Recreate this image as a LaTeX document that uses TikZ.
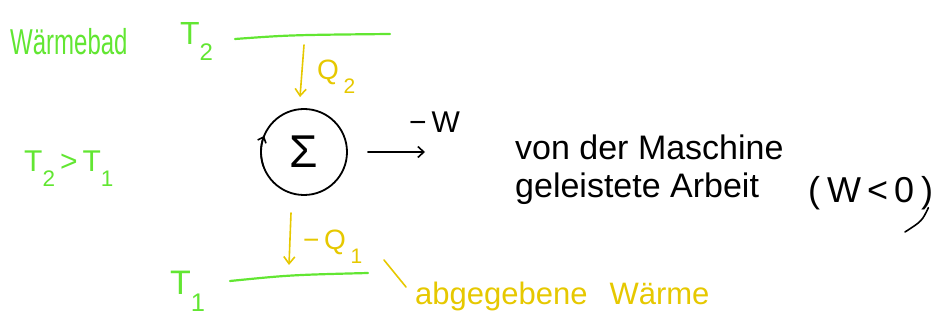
\documentclass[tikz,border=0pt]{standalone}
\usepackage{fontspec}
\setmainfont{Liberation Sans}
\usetikzlibrary{arrows.meta}
\definecolor{bathgreen}{RGB}{98,230,50}
\definecolor{heatyellow}{RGB}{230,200,0}
\newcommand\lowsub[1]{\raisebox{-0.5em}{\scalebox{0.75}{#1}}}
\tikzset{
  greentext/.style={text=bathgreen, inner sep=0pt},
  yellowtext/.style={text=heatyellow, inner sep=0pt},
  blacktext/.style={text=black, inner sep=0pt},
  bathline/.style={draw=bathgreen, line width=2.2pt, line cap=round},
  heatarrow/.style={draw=heatyellow, line width=1.6pt, line cap=round,
    -{Straight Barb[length=7pt,width=11pt,line width=1.6pt]}},
  heatstroke/.style={draw=heatyellow, line width=1.6pt, line cap=round},
  workarrow/.style={draw=black, line width=1.6pt, line cap=round,
    -{Straight Barb[length=6pt,width=11pt,line width=1.6pt]}},
  inkstroke/.style={draw=black, line width=1.6pt, line cap=round},
  machine/.style={circle, draw=black, line width=1.8pt, minimum size=86pt, inner sep=0pt}
}
\begin{document}
\begin{tikzpicture}[x=1pt,y=1pt]
\useasboundingbox (0,0) rectangle (942,321);

% heat bath labels
\node[greentext, anchor=base west, font=\fontsize{24}{24}\selectfont] (bath) at (10,266) {\scalebox{1}[1.5]{Wärmebad}};
\node[greentext, anchor=base west, font=\fontsize{32}{32}\selectfont] (t2) at (180,276) {T\lowsub{2}};
\node[greentext, anchor=base west, font=\fontsize{30}{30}\selectfont] (cmp) at (24,149) {T\lowsub{2}\,>\,T\lowsub{1}};
\node[greentext, anchor=base west, font=\fontsize{34}{34}\selectfont] (t1) at (170,26) {T\lowsub{1}};

% reservoir lines
\coordinate (topL) at (235,282);
\coordinate (topR) at (390,287);
\draw[bathline] (topL) .. controls (290,286) .. (topR);
\coordinate (botL) at (230,40);
\coordinate (botR) at (368,48);
\draw[bathline] (botL) .. controls (290,46) .. (botR);

% machine
\node[machine, font=\fontsize{46}{46}\selectfont] (sigma) at (304,169) {Σ};
\draw[draw=black, line width=1.6pt, -{Straight Barb[length=5pt,width=9pt,line width=1.6pt]}]
  (sigma.center) ++(200:43) arc[start angle=200, end angle=158, radius=43];

% heat Q2 in
\coordinate (q2top) at (304,276);
\draw[heatarrow] (q2top) -- ([xshift=-4pt,yshift=11pt]sigma.north);
\node[yellowtext, anchor=base west, font=\fontsize{28}{28}\selectfont] (q2) at (317,241) {Q\,\lowsub{2}};

% work out
\coordinate (wtip) at (425,169);
\draw[workarrow] ([xshift=20pt]sigma.east) -- (wtip);
\node[blacktext, anchor=base west, font=\fontsize{30}{30}\selectfont] (w) at (409,188) {−\,W};

% heat Q1 out
\coordinate (q1tip) at (289,56);
\draw[heatarrow] ([xshift=-13pt,yshift=-17pt]sigma.south) -- (q1tip);
\node[yellowtext, anchor=base west, font=\fontsize{28}{28}\selectfont] (q1) at (303,71) {−\,Q\,\lowsub{1}};

% annotation for Q1
\coordinate (tickstart) at (384,61);
\coordinate (tickend) at (406,34);
\draw[heatstroke] (tickstart) -- (tickend);
\node[yellowtext, anchor=base west, font=\fontsize{31}{31}\selectfont] (abg) at (415,16) {abgegebene\hspace{22pt}Wärme};

% annotation for W
\node[blacktext, anchor=base west, align=left, font=\fontsize{34}{38}\selectfont] (text) at (515,123)
  {von der Maschine\\geleistete Arbeit};
\node[blacktext, anchor=base west, font=\fontsize{36}{36}\selectfont] (cond) at (808,118)
  {(\hspace{7pt}W\hspace{6pt}<\hspace{6pt}0\hspace{7pt})};
\coordinate (tailend) at (905,89);
\draw[inkstroke] ([xshift=-5pt,yshift=3pt]cond.south east) .. controls (922,100) .. (tailend);
\end{tikzpicture}
\end{document}
